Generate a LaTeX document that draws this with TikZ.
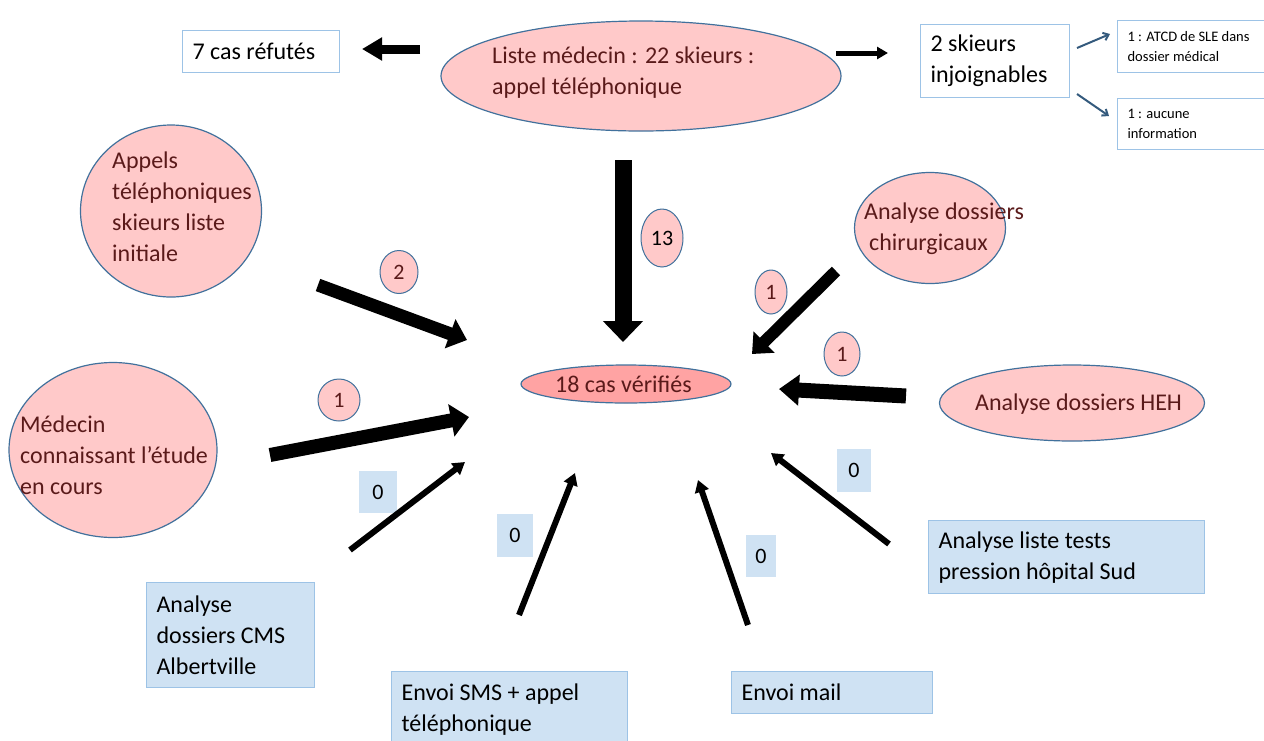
\documentclass[tikz,border=0pt]{standalone}
\usepackage{fontspec}
\setmainfont{Carlito}
\usetikzlibrary{arrows.meta,shapes.geometric}
\definecolor{pinkfill}{HTML}{FFC9C9}
\definecolor{pinkdark}{HTML}{FFA3A3}
\definecolor{ellborder}{HTML}{41719C}
\definecolor{boxborder}{HTML}{9DC3E6}
\definecolor{boxfill}{HTML}{CFE2F3}
\definecolor{redtext}{HTML}{5A1A1A}
\begin{document}
\begin{tikzpicture}[x=1pt,y=-1pt,
  ellnode/.style={ellipse, draw=ellborder, line width=1.2pt, fill=pinkfill, inner sep=0pt},
  elltext/.style={anchor=west, align=left, text=redtext, inner sep=0pt, font=\fontsize{24}{31}\selectfont},
  boxw/.style={draw=boxborder, line width=1.2pt, fill=white, anchor=north west, inner xsep=10pt, inner ysep=0pt, align=flush left, font=\fontsize{24}{31}\selectfont},
  boxb/.style={boxw, fill=boxfill},
  boxs/.style={boxw, font=\fontsize{14.5}{20}\selectfont},
  numc/.style={ellipse, draw=ellborder, line width=1pt, fill=pinkfill, inner sep=0pt, text=redtext, font=\fontsize{22}{26}\selectfont},
  zlab/.style={fill=boxfill, inner sep=0pt, font=\fontsize{22}{26}\selectfont},
  bigarrow/.style={line width=#1, draw=black},
]
\useasboundingbox (0,0) rectangle (1264,740);

% ---- ellipses
\node[ellnode, minimum width=400pt, minimum height=110pt] (liste) at (641,76) {};
\node[elltext] (listet) at (492,73) {Liste médecin : 22 skieurs :\\appel téléphonique};

\node[ellnode, minimum width=181pt, minimum height=172pt] (appels) at (171,211) {};
\node[elltext] (appelst) at (112,207) {Appels\\téléphoniques\\skieurs liste\\initiale};

\node[ellnode, minimum width=208pt, minimum height=175pt] (medecin) at (113,450) {};
\node[elltext] (medecint) at (20,455) {Médecin\\connaissant l’étude\\en cours};

\node[ellnode, minimum width=151pt, minimum height=111pt] (chir) at (930,228) {};
\node[elltext] (chirt) at (864,229) {Analyse dossiers\\\hspace*{5pt}chirurgicaux};

\node[ellnode, minimum width=265pt, minimum height=76pt] (heh) at (1072,403) {};
\node[elltext] (heht) at (975,404) {Analyse dossiers HEH};

\node[ellnode, fill=pinkdark, minimum width=210pt, minimum height=38pt] (verif) at (626,384) {};
\node[elltext, text=redtext] (verift) at (555,384) {18 cas vérifiés};

% ---- boxes
\node[boxw, minimum width=157pt, minimum height=42pt, text width=137pt] (refutes) at (182,30) {7 cas réfutés};
\node[boxw, minimum width=149pt, minimum height=73pt, text width=129pt] (injoign) at (920,24) {2 skieurs\\injoignables};
\node[boxs, minimum width=152pt, minimum height=52pt, text width=132pt] (atcd) at (1117,20) {1 : ATCD de SLE dans\\dossier médical};
\node[boxs, minimum width=152pt, minimum height=51pt, text width=132pt] (aucune) at (1117,98) {1 : aucune\\information};

\node[boxb, minimum width=168pt, minimum height=105pt, text width=148pt] (cms) at (146,582) {Analyse\\dossiers CMS\\Albertville};
\node[boxb, minimum width=236pt, minimum height=76pt, text width=216pt] (sms) at (391,671) {Envoi SMS + appel\\téléphonique};
\node[boxb, minimum width=201pt, minimum height=42pt, text width=181pt] (mail) at (731,671) {Envoi mail};
\node[boxb, minimum width=276pt, minimum height=73pt, text width=256pt] (tests) at (928,520) {Analyse liste tests\\pression hôpital Sud};

% ---- number labels
\node[numc, minimum width=38pt, minimum height=43pt] (n2) at (399,272) {2};
\node[numc, minimum width=42pt, minimum height=42pt] (n1a) at (339,400) {1};
\node[numc, minimum width=32pt, minimum height=44pt] (n1b) at (771,292) {1};
\node[numc, minimum width=36pt, minimum height=44pt] (n1c) at (842,354) {1};
\node[numc, minimum width=42pt, minimum height=58pt, text=black] (n13) at (662,238) {13};

\node[zlab, minimum width=38pt, minimum height=42pt] (z1) at (378,492) {0};
\node[zlab, minimum width=36pt, minimum height=43pt] (z2) at (515,535) {0};
\node[zlab, minimum width=30pt, minimum height=42pt] (z3) at (761,556) {0};
\node[zlab, minimum width=34pt, minimum height=43pt] (z4) at (854,470) {0};

% ---- arrow end points
\coordinate (a1s) at (420,49);  \coordinate (a1e) at (362,49);
\coordinate (a2s) at (836,53);  \coordinate (a2e) at (888,53);
\coordinate (a3s) at (1077,48); \coordinate (a3e) at (1110,34);
\coordinate (a4s) at (1077,94); \coordinate (a4e) at (1109,116);
\coordinate (a5s) at (623,160); \coordinate (a5e) at (623,342);
\coordinate (a6s) at (318,285); \coordinate (a6e) at (467,340);
\coordinate (a7s) at (270,455); \coordinate (a7e) at (469,417);
\coordinate (a8s) at (836,271); \coordinate (a8e) at (752,354);
\coordinate (a9s) at (906,396); \coordinate (a9e) at (779,389);
\coordinate (b1s) at (350,550); \coordinate (b1e) at (465,462);
\coordinate (b2s) at (519,615); \coordinate (b2e) at (575,473);
\coordinate (b3s) at (748,625); \coordinate (b3e) at (698,480);
\coordinate (b4s) at (889,544); \coordinate (b4e) at (771,453);

% ---- arrows
\draw[bigarrow=9pt, -{Triangle[length=20pt,width=22pt]}] (a1s) -- (a1e);
\draw[bigarrow=5pt, -{Triangle[length=11pt,width=12pt]}] (a2s) -- (a2e);
\draw[line width=2pt, draw=ellborder!80!black, -{Straight Barb[length=5pt,width=8pt]}] (a3s) -- (a3e);
\draw[line width=2pt, draw=ellborder!80!black, -{Straight Barb[length=5pt,width=8pt]}] (a4s) -- (a4e);
\draw[bigarrow=17pt, -{Triangle[length=21pt,width=39pt]}] (a5s) -- (a5e);
\draw[bigarrow=13pt, -{Triangle[length=18pt,width=30pt]}] (a6s) -- (a6e);
\draw[bigarrow=14pt, -{Triangle[length=18pt,width=32pt]}] (a7s) -- (a7e);
\draw[bigarrow=12pt, -{Triangle[length=17pt,width=29pt]}] (a8s) -- (a8e);
\draw[bigarrow=15pt, -{Triangle[length=20pt,width=30pt]}] (a9s) -- (a9e);
\draw[bigarrow=6pt, -{Triangle[length=12pt,width=14pt]}] (b1s) -- (b1e);
\draw[bigarrow=6pt, -{Triangle[length=12pt,width=14pt]}] (b2s) -- (b2e);
\draw[bigarrow=6pt, -{Triangle[length=12pt,width=14pt]}] (b3s) -- (b3e);
\draw[bigarrow=6pt, -{Triangle[length=12pt,width=14pt]}] (b4s) -- (b4e);
\end{tikzpicture}
\end{document}
